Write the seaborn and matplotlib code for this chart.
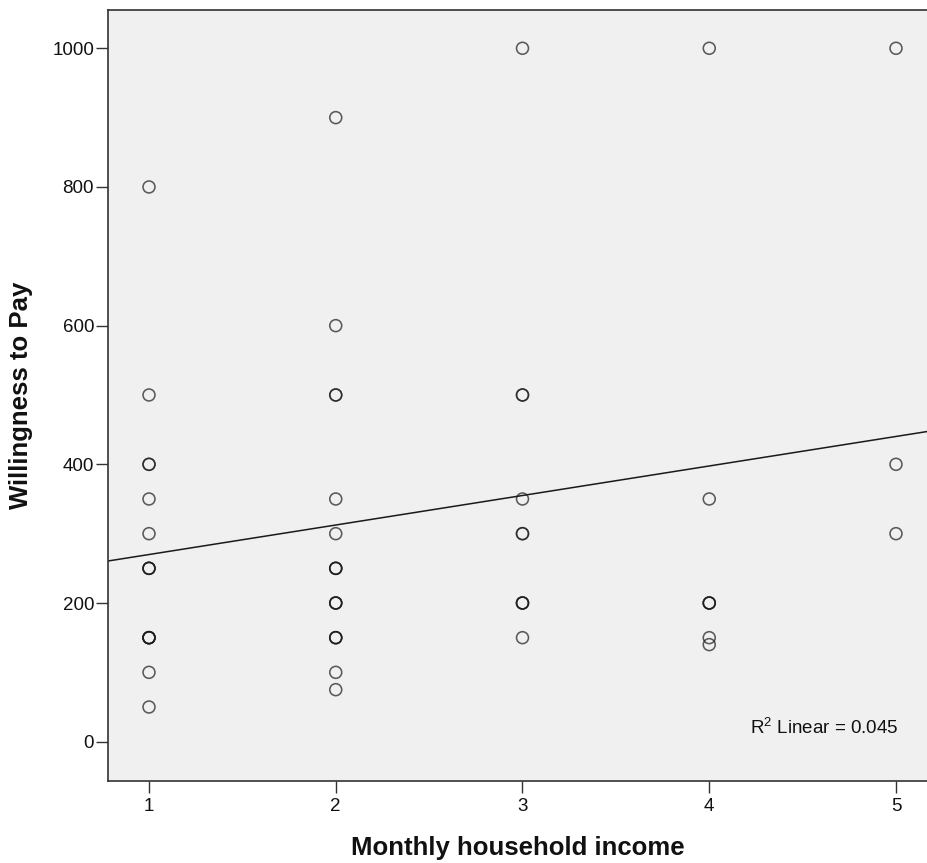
import matplotlib
matplotlib.use("Agg")
import matplotlib.pyplot as plt
import seaborn as sns
import pandas as pd

# ---- data (overlapping circles counted as repeats) ----
income_levels = [1, 2, 3, 4, 5]
wtp_income_1 = [800, 500, 400, 400, 350, 300, 250, 250, 250, 150, 150, 150, 150, 100, 50]
wtp_income_2 = [900, 600, 500, 500, 350, 300, 250, 250, 250, 200, 200, 200, 150, 150, 150, 100, 75]
wtp_income_3 = [1000, 500, 500, 350, 300, 300, 200, 200, 200, 150]
wtp_income_4 = [1000, 350, 200, 200, 200, 150, 140]
wtp_income_5 = [1000, 400, 300]
y_ticks = [0, 200, 400, 600, 800, 1000]
r2_label = r"R$^{\mathrm{2}}$ Linear = 0.045"

groups = [wtp_income_1, wtp_income_2, wtp_income_3, wtp_income_4, wtp_income_5]
df = pd.DataFrame({
    "income": [lvl for lvl, g in zip(income_levels, groups) for _ in g],
    "wtp": [v for g in groups for v in g],
})

sns.set_style("white")
plt.rcParams["font.family"] = ["Liberation Sans", "DejaVu Sans"]
plt.rcParams["mathtext.fontset"] = "custom"
plt.rcParams["mathtext.rm"] = "Liberation Sans"

W, H = 927, 863
fig = plt.figure(figsize=(W / 100, H / 100), dpi=100)
ax = fig.add_axes([108 / W, 1 - 781 / H, (W - 108) / W, (781 - 10) / H])
ax.set_facecolor("#F0F0F0")

xlim = (0.7805, 5.166)
ylim = (-56.7, 1055.2)
ax.set_xlim(*xlim)
ax.set_ylim(*ylim)

sns.regplot(
    data=df, x="income", y="wtp", ax=ax, ci=None, truncate=False,
    scatter_kws=dict(facecolors="none", edgecolors="#1a1a1a", s=74,
                     linewidths=1.15, alpha=0.7),
    line_kws=dict(color="#1a1a1a", linewidth=1.1),
    color="#1a1a1a",
)
ax.set_xlim(*xlim)
ax.set_ylim(*ylim)

ax.set_xticks(income_levels)
ax.set_yticks(y_ticks)
ax.tick_params(axis="both", which="major", direction="out", length=8.5, width=1.0,
               color="#333333", labelsize=13.5, labelcolor="#111111",
               bottom=True, left=True, top=False, right=False)
ax.tick_params(axis="y", pad=1.5)
ax.tick_params(axis="x", pad=4)

for side in ["left", "bottom", "top"]:
    ax.spines[side].set_visible(True)
    ax.spines[side].set_color("#333333")
    ax.spines[side].set_linewidth(1.2)
ax.spines["right"].set_visible(False)

ax.set_xlabel("Monthly household income", fontsize=18.5, fontweight="bold",
              labelpad=15, color="#111111")
ax.set_ylabel("Willingness to Pay", fontsize=18.5, fontweight="bold",
              labelpad=14, color="#111111")

ax.text(0.9658, 0.061, r2_label, transform=ax.transAxes, ha="right",
        va="baseline", fontsize=13.5, color="#111111")

fig.savefig("out.png", dpi=100)
